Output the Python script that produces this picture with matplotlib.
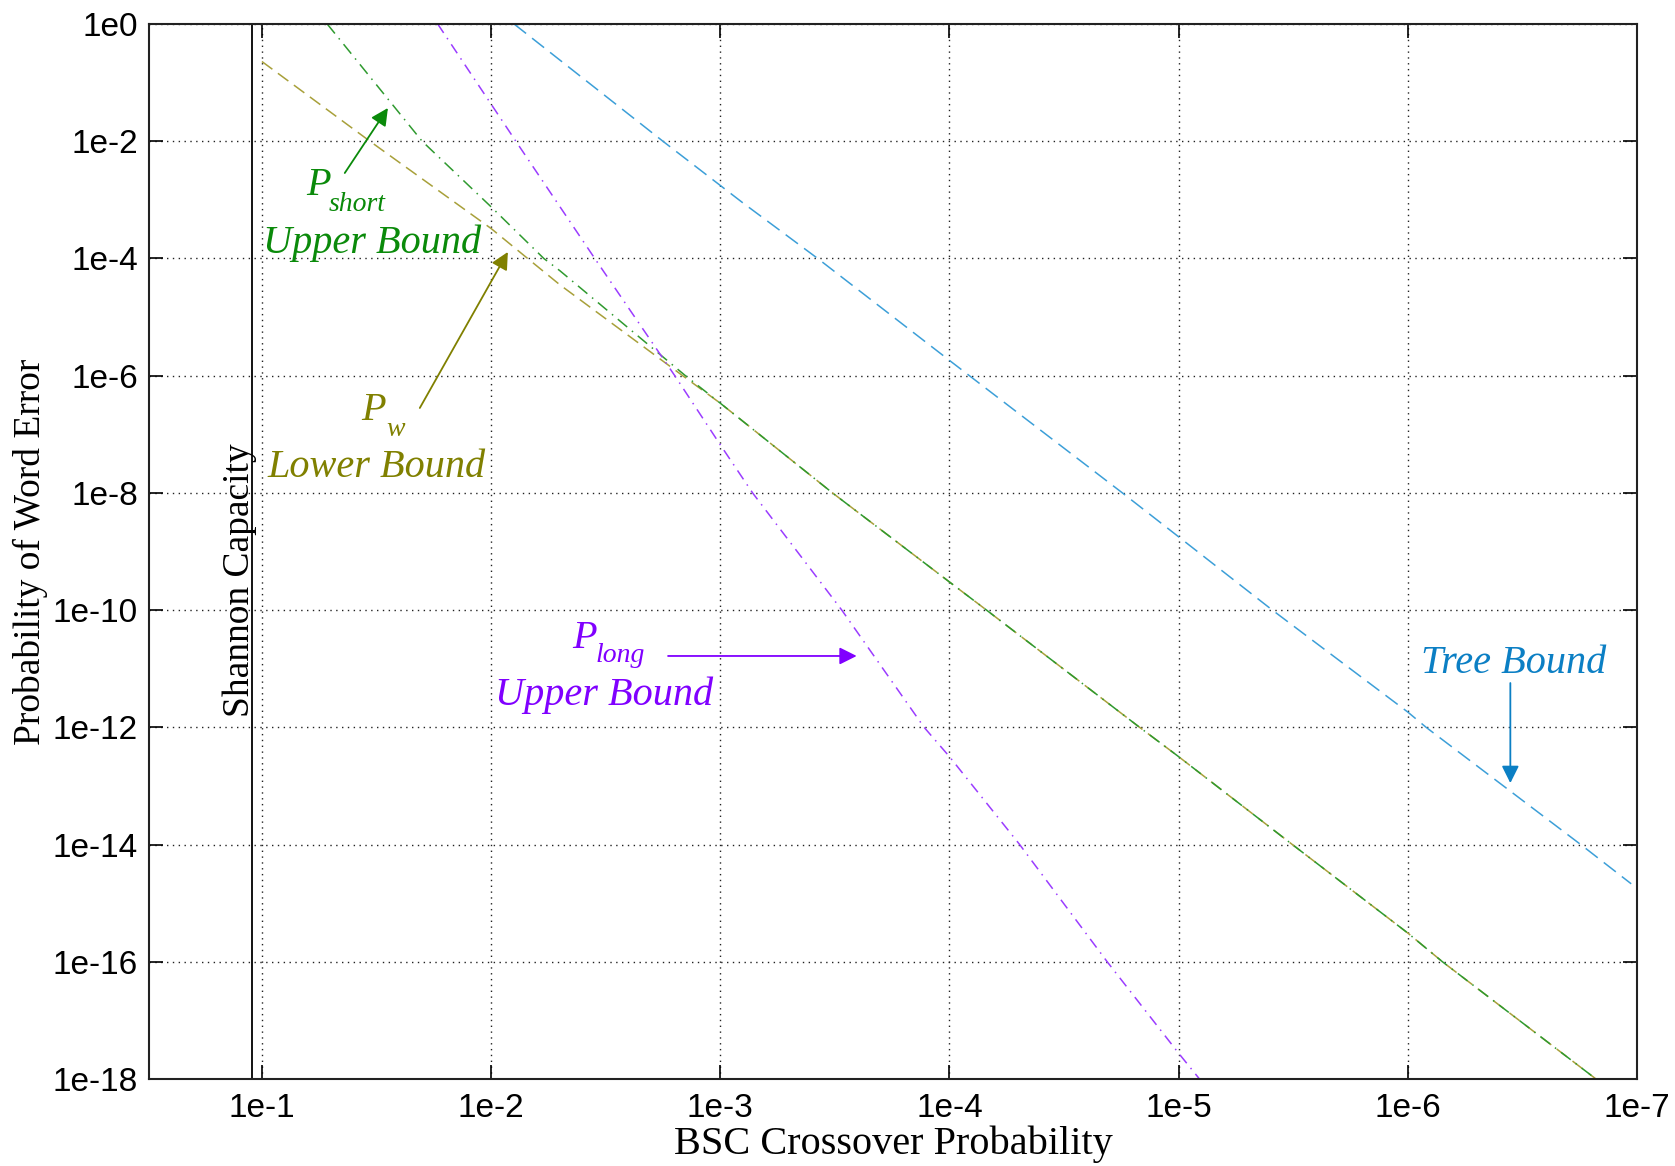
import matplotlib
matplotlib.use("Agg")
import matplotlib.pyplot as plt
from matplotlib.ticker import FixedLocator, NullLocator

# ---------------- data ----------------
tree_p = [7.94e-3, 1.78e-3, 7.98e-4, 3.76e-4, 1.0e-4, 1.76e-5, 1.0e-5,
          3.90e-6, 1.0e-6, 8.32e-7, 1.76e-7, 1.06e-7]
tree_P = [1.0, 1e-2, 8.91e-4, 1e-4, 1.82e-6, 1e-8, 1.78e-9,
          1e-10, 1.82e-12, 1e-12, 1e-14, 2.14e-15]

long_p = [1.71e-2, 7.80e-3, 3.53e-3, 1.58e-3, 1.0e-3, 7.23e-4, 2.95e-4,
          1.29e-4, 1.0e-4, 4.94e-5, 2.05e-5, 1.0e-5, 8.11e-6]
long_P = [1.0, 1e-2, 1e-4, 1e-6, 6.61e-8, 1e-8, 1e-10,
          1e-12, 3.16e-13, 1e-14, 1e-16, 2.75e-18, 1e-18]

short_p = [5.19e-2, 2.0e-2, 1.0e-2, 5.89e-3, 5.01e-3, 1.42e-3, 1.0e-3,
           3.24e-4, 1.0e-4, 6.89e-5, 1.48e-5, 1.0e-5, 3.19e-6, 1.0e-6,
           7.06e-7, 1.51e-7]
short_P = [1.0, 1e-2, 7.59e-4, 1e-4, 6.17e-5, 1e-6, 3.39e-7,
           1e-8, 3.02e-10, 1e-10, 1e-12, 3.16e-13, 1e-14, 3.09e-16,
           1e-16, 1e-18]

pw_p = [1.0e-1, 3.38e-2, 1.0e-2, 6.93e-3, 5.01e-3, 1.46e-3, 1.0e-3,
        3.24e-4, 1.0e-4, 6.89e-5, 1.48e-5, 1.0e-5, 3.19e-6, 1.0e-6,
        7.06e-7, 1.51e-7]
pw_P = [0.229, 1e-2, 3.24e-4, 1e-4, 3.55e-5, 1e-6, 3.39e-7,
        1e-8, 3.02e-10, 1e-10, 1e-12, 3.16e-13, 1e-14, 3.09e-16,
        1e-16, 1e-18]

shannon_p = 0.11

x_ticks = [1e-1, 1e-2, 1e-3, 1e-4, 1e-5, 1e-6, 1e-7]
x_labels = ["1e-1", "1e-2", "1e-3", "1e-4", "1e-5", "1e-6", "1e-7"]
y_ticks = [1e0, 1e-2, 1e-4, 1e-6, 1e-8, 1e-10, 1e-12, 1e-14, 1e-16, 1e-18]
y_labels = ["1e0", "1e-2", "1e-4", "1e-6", "1e-8", "1e-10", "1e-12",
            "1e-14", "1e-16", "1e-18"]

# ---------------- colours ----------------
c_tree_line, c_tree_txt = "#3c9fd8", "#0b7fc4"
c_long_line, c_long_txt = "#9b3cff", "#8000ff"
c_short_line, c_short_txt = "#2f9a2f", "#0a8a0a"
c_pw_line, c_pw_txt = "#a8a03a", "#808000"

SERIF = ["Liberation Serif", "DejaVu Serif"]
SANS = ["Liberation Sans", "DejaVu Sans"]

fig = plt.figure(figsize=(16.75, 11.66), dpi=100)
ax = fig.add_axes([149 / 1675, 1 - 1079 / 1166, 1488 / 1675, 1055 / 1166])
ax.set_xscale("log")
ax.set_yscale("log")

lw = 1.1
l, = ax.plot(tree_p, tree_P, color=c_tree_line, lw=lw)
l.set_dashes((10, 5))
l, = ax.plot(pw_p, pw_P, color=c_pw_line, lw=lw)
l.set_dashes((8.5, 4.5))
l, = ax.plot(short_p, short_P, color=c_short_line, lw=lw)
l.set_dashes((8, 4, 1, 4))
l, = ax.plot(long_p, long_P, color=c_long_line, lw=lw)
l.set_dashes((7, 4, 1, 4))

ax.axvline(shannon_p, color="black", lw=1.3)

ax.set_xlim(0.311, 1e-7)
ax.set_ylim(1e-18, 1.0)

ax.xaxis.set_major_locator(FixedLocator(x_ticks))
ax.xaxis.set_minor_locator(NullLocator())
ax.yaxis.set_major_locator(FixedLocator(y_ticks))
ax.yaxis.set_minor_locator(NullLocator())
ax.set_xticklabels(x_labels, fontfamily=SANS, fontsize=24)
ax.set_yticklabels(y_labels, fontfamily=SANS, fontsize=24)
ax.tick_params(direction="in", length=10, width=1.2, top=True, right=True,
               color="black")
ax.tick_params(axis="x", pad=10)
ax.tick_params(axis="y", pad=8)

ax.grid(True, which="major", color="#222222", lw=1.0, linestyle=(0, (1, 3.2)))
for s in ax.spines.values():
    s.set_linewidth(1.5)
    s.set_color("#222222")

ax.set_xlabel("BSC Crossover Probability", fontfamily=SERIF, fontsize=29)
ax.set_ylabel("Probability of Word Error", fontfamily=SERIF, fontsize=27)
ax.xaxis.set_label_coords(0.5, -0.044)
ax.yaxis.set_label_coords(-0.068, 0.5)

# Shannon capacity label
ax.text(0.1139, 3.26e-10, "Shannon Capacity", rotation=90, rotation_mode="anchor",
        ha="center", va="baseline", fontfamily=SERIF, fontsize=27, color="black")

big, small = 29, 20
def lab(x, y, s, c, size):
    ax.text(x, y, s, color=c, fontfamily=SERIF, style="italic", fontsize=size,
            ha="left", va="baseline")

def arrow(x0, y0, x1, y1, c):
    ax.annotate("", xy=(x1, y1), xytext=(x0, y0),
                arrowprops=dict(arrowstyle="-|>", color=c, lw=1.3,
                                mutation_scale=26, shrinkA=0, shrinkB=0))

# P_short upper bound
lab(0.0638, 1.21e-3, "P", c_short_txt, big)
lab(0.0511, 6.45e-4, "short", c_short_txt, small)
lab(0.099, 1.24e-4, "Upper Bound", c_short_txt, big)
arrow(0.0435, 2.87e-3, 0.0282, 3.69e-2, c_short_txt)

# P_w lower bound
lab(0.0367, 1.75e-7, "P", c_pw_txt, big)
lab(0.0286, 9.33e-8, "w", c_pw_txt, small)
lab(0.0942, 1.87e-8, "Lower Bound", c_pw_txt, big)
arrow(0.02047, 2.81e-7, 8.45e-3, 1.29e-4, c_pw_txt)

# P_long upper bound
lab(4.41e-3, 2.26e-11, "P", c_long_txt, big)
lab(3.49e-3, 1.30e-11, "long", c_long_txt, small)
lab(9.64e-3, 2.40e-12, "Upper Bound", c_long_txt, big)
arrow(1.69e-3, 1.65e-11, 2.54e-4, 1.65e-11, c_long_txt)

# Tree bound
lab(8.73e-7, 8.45e-12, "Tree Bound", c_tree_txt, big)
arrow(3.57e-7, 5.70e-12, 3.57e-7, 1.12e-13, c_tree_txt)

fig.savefig("out.png", dpi=100)
